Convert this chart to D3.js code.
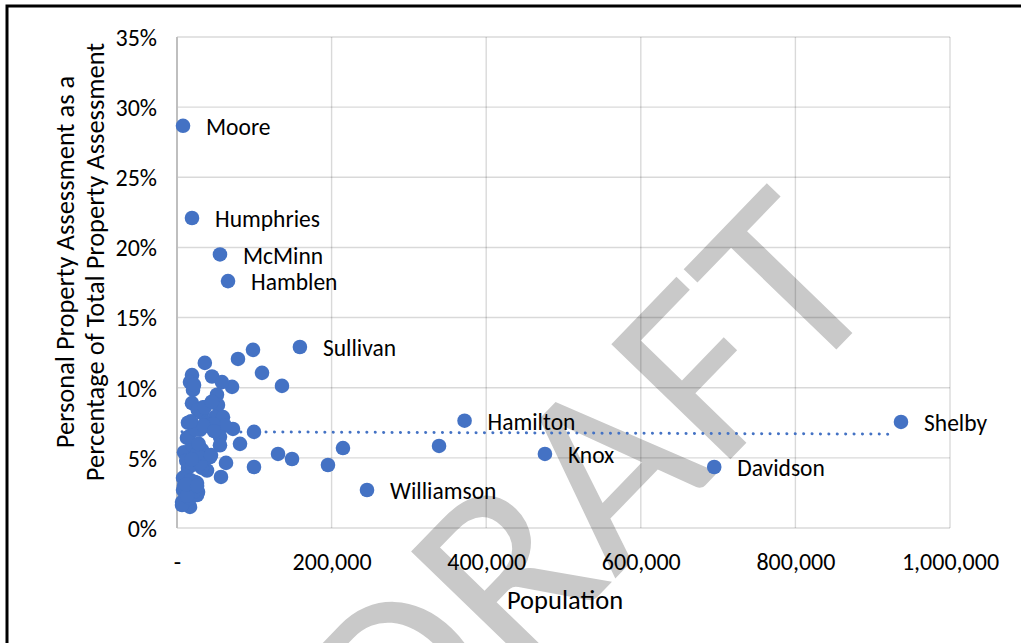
<!DOCTYPE html>
<html>
<head>
<meta charset="utf-8">
<script src="https://cdn.jsdelivr.net/npm/d3@7"></script>
<style>
  html, body { margin: 0; padding: 0; background: #fff; }
  svg { display: block; }
  text { font-family: Carlito, Lato, "Open Sans", sans-serif; }
</style>
</head>
<body>
<svg id="chart" width="1021" height="643"></svg>
<script>
// ---- Data ----
const labeledCounties = ["Moore", "Humphries", "McMinn", "Hamblen", "Sullivan", "Hamilton", "Knox", "Davidson", "Shelby", "Williamson"];
const labeledPopulation = [7800, 19400, 55600, 66000, 159000, 372000, 476000, 695000, 936600, 245800];
const labeledShare = [0.2867, 0.2210, 0.1950, 0.1760, 0.1290, 0.0765, 0.0528, 0.0435, 0.0756, 0.0271];

const otherPopulation = [98300, 78900, 110000, 135800, 99600, 81500, 130700, 148800, 99600, 195300,
  214700, 339000, 63400, 56900, 72400, 71200, 36000, 19400, 16800, 45300,
  58200, 20700, 51700, 19400, 53000, 33600, 32300, 49200, 59500, 14200,
  40100, 62000, 23300, 29800, 42700, 12900, 55600, 55600, 9100, 29800,
  42700, 32300, 40100, 16800, 38800, 14200, 32300, 10300, 25900, 23300,
  7800, 7800, 25900, 27200, 6500, 16800, 6500, 16800, 25900, 47000,
  27000, 36000, 45000, 12000, 20000, 11000, 18000, 9000, 22000, 13000,
  30000, 35000, 20000, 26000, 15000, 24000, 34000, 18000, 28000, 48000,
  44000, 12000, 19000, 22000, 26000];
const otherShare = [0.1270, 0.1205, 0.1106, 0.1013, 0.0685, 0.0600, 0.0528, 0.0492, 0.0435, 0.0449,
  0.0570, 0.0585, 0.0464, 0.0364, 0.0706, 0.1006, 0.1177, 0.1090, 0.1040, 0.1080,
  0.1040, 0.0984, 0.0950, 0.0890, 0.0877, 0.0860, 0.0820, 0.0790, 0.0790, 0.0750,
  0.0750, 0.0730, 0.0710, 0.0700, 0.0735, 0.0642, 0.0650, 0.0590, 0.0540, 0.0570,
  0.0506, 0.0556, 0.0500, 0.0470, 0.0410, 0.0428, 0.0428, 0.0364, 0.0320, 0.0328,
  0.0357, 0.0270, 0.0250, 0.0257, 0.0185, 0.0150, 0.0164, 0.0214, 0.0235, 0.0740,
  0.0840, 0.0860, 0.0900, 0.0480, 0.0450, 0.0370, 0.0340, 0.0300, 0.0260, 0.0230,
  0.0460, 0.0530, 0.0590, 0.0530, 0.0650, 0.0700, 0.0730, 0.0760, 0.0600, 0.0690,
  0.0520, 0.0310, 0.0490, 0.1020, 0.0300];

const xTickValues = [0, 200000, 400000, 600000, 800000, 1000000];
const xTickLabels = ["-", "200,000", "400,000", "600,000", "800,000", "1,000,000"];
const yTickValues = [0, 0.05, 0.10, 0.15, 0.20, 0.25, 0.30, 0.35];
const yTickLabels = ["0%", "5%", "10%", "15%", "20%", "25%", "30%", "35%"];

const xTitle = "Population";
const yTitleLines = ["Personal Property Assessment as a", "Percentage of Total Property Assessment"];
const watermarkText = "DRAFT";

// ---- Build ----
const points = otherPopulation.map((p, i) => ({ pop: p, share: otherShare[i], name: null }))
  .concat(labeledPopulation.map((p, i) => ({ pop: p, share: labeledShare[i], name: labeledCounties[i] })));

const svg = d3.select("#chart");
const W = 1021, H = 643;
svg.append("rect").attr("width", W).attr("height", H).attr("fill", "#fff");

const x = d3.scaleLinear().domain([0, 1000000]).range([177, 950]);
const y = d3.scaleLinear().domain([0, 0.35]).range([528, 37]);

// watermark (behind chart)
svg.append("text")
  .attr("transform", "translate(888,296) rotate(-46)")
  .attr("text-anchor", "end")
  .attr("font-size", 258)
  .attr("fill", "#c9c9c9")
  .text(watermarkText);

// gridlines
const grid = svg.append("g");
grid.selectAll("line.h").data(yTickValues).join("line")
  .attr("x1", x(0)).attr("x2", x(1000000))
  .attr("y1", d => y(d)).attr("y2", d => y(d))
  .attr("stroke", "#000").attr("stroke-opacity", 0.15).attr("stroke-width", 1.4);
grid.selectAll("line.v").data(xTickValues.slice(1)).join("line")
  .attr("x1", d => x(d)).attr("x2", d => x(d))
  .attr("y1", y(0.35)).attr("y2", y(0))
  .attr("stroke", "#000").attr("stroke-opacity", 0.15).attr("stroke-width", 1.4);
svg.append("line")
  .attr("x1", x(0)).attr("x2", x(0)).attr("y1", y(0.35)).attr("y2", y(0))
  .attr("stroke", "#bfbfbf").attr("stroke-width", 2);

// axes
const xAxis = d3.axisBottom(x).tickValues(xTickValues)
  .tickFormat((d, i) => xTickLabels[i]).tickSize(0).tickPadding(0);
const gx = svg.append("g").attr("transform", `translate(0,${y(0) + 34})`).call(xAxis);
gx.select(".domain").remove();
gx.selectAll("text").attr("font-size", 24).attr("fill", "#000")
  .attr("font-family", "Carlito, Lato, sans-serif").attr("dy", "0.35em").attr("y", 0);

const yAxis = d3.axisLeft(y).tickValues(yTickValues)
  .tickFormat((d, i) => yTickLabels[i]).tickSize(0).tickPadding(0);
const gy = svg.append("g").attr("transform", `translate(${x(0) - 20},0)`).call(yAxis);
gy.select(".domain").remove();
gy.selectAll("text").attr("font-size", 24).attr("fill", "#000")
  .attr("font-family", "Carlito, Lato, sans-serif").attr("dy", "0.35em").attr("x", 0);

// titles
svg.append("text").attr("x", 565).attr("y", 600).attr("dy", "0.35em")
  .attr("text-anchor", "middle").attr("font-size", 26.5).attr("fill", "#000").text(xTitle);
svg.append("g").attr("transform", "translate(80,262) rotate(-90)")
  .selectAll("text").data(yTitleLines).join("text")
  .attr("x", 0).attr("y", (d, i) => (i - 0.5) * 30)
  .attr("dy", "0.35em").attr("text-anchor", "middle")
  .attr("font-size", 26.5).attr("fill", "#000").text(d => d);

// linear trendline (least squares through all points)
const mx = d3.mean(points, d => d.pop), my = d3.mean(points, d => d.share);
const slope = d3.sum(points, d => (d.pop - mx) * (d.share - my)) / d3.sum(points, d => (d.pop - mx) ** 2);
const icpt = my - slope * mx;
const xr = d3.extent(points, d => d.pop);
const xEnd = x.invert(x(xr[1]) - 8);
svg.append("line")
  .attr("x1", x(xr[0])).attr("y1", y(icpt + slope * xr[0]))
  .attr("x2", x(xEnd)).attr("y2", y(icpt + slope * xEnd))
  .attr("stroke", "#4472c4").attr("stroke-width", 3)
  .attr("stroke-linecap", "round").attr("stroke-dasharray", "0.1 8.3");

// points
svg.append("g").selectAll("circle").data(points).join("circle")
  .attr("cx", d => x(d.pop)).attr("cy", d => y(d.share)).attr("r", 7.3)
  .attr("fill", "#4472c4");

// labels
svg.append("g").selectAll("text").data(points.filter(d => d.name)).join("text")
  .attr("x", d => x(d.pop) + 23).attr("y", d => y(d.share) + 1).attr("dy", "0.35em")
  .attr("font-size", 23.5).attr("fill", "#000").text(d => d.name);

// frame
svg.append("rect").attr("x", 7).attr("y", 6).attr("width", 1030).attr("height", 660)
  .attr("fill", "none").attr("stroke", "#000").attr("stroke-width", 3);
</script>
</body>
</html>
